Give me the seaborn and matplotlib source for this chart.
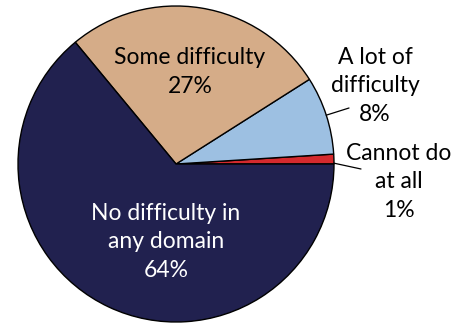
import numpy as np
import matplotlib.pyplot as plt
import seaborn as sns

# Slices, counterclockwise from the 3 o'clock position
labels = ['Cannot do\nat all', 'A lot of\ndifficulty', 'Some difficulty', 'No difficulty in\nany domain']
shares = [1, 8, 27, 64]
colors = ['#D42A2E', '#9DC0E2', '#D5AC88', '#21214F']

sns.set_style("white")
plt.rcParams['font.family'] = ['Lato', 'DejaVu Sans']

fig = plt.figure(figsize=(4.64, 3.24), dpi=100)
ax = fig.add_axes([0, 0, 1, 1])

wedges, _ = ax.pie(shares, colors=colors, startangle=0, counterclock=True,
                   wedgeprops=dict(edgecolor='black', linewidth=1.0))

# 1 unit = 158 px, pie centre at (176, 164) px from top-left
r = 158.0
ax.set_xlim(-176 / r, (464 - 176) / r)
ax.set_ylim(-(324 - 164) / r, 164 / r)
ax.set_aspect('auto')
ax.axis('off')


def px(x, y):
    return (x - 176) / r, (164 - y) / r


fs = 16.5
ls = 1.42

# labels inside the pie
tx, ty = px(190, 72)
ax.text(tx, ty, f'{labels[2]}\n{shares[2]}%', ha='center', va='center',
        fontsize=fs, color='black', linespacing=ls)
tx, ty = px(166, 242)
ax.text(tx, ty, f'{labels[3]}\n{shares[3]}%', ha='center', va='center',
        fontsize=fs, color='white', linespacing=ls)

# labels outside with leader lines: (slice, label x, label y, line end x, line end y)
outside = [(1, 375, 86, 349, 108), (0, 399, 182, 361, 169)]
for i, lx, ly, ex, ey in outside:
    w = wedges[i]
    theta = np.deg2rad((w.theta1 + w.theta2) / 2)
    if i == 0:
        theta = np.deg2rad(w.theta1 + 0.3)
    sx, sy = np.cos(theta), np.sin(theta)
    exx, eyy = px(ex, ey)
    ax.plot([sx, exx], [sy, eyy], color='black', lw=0.9)
    tx, ty = px(lx, ly)
    ax.text(tx, ty, f'{labels[i]}\n{shares[i]}%', ha='center', va='center',
            fontsize=fs, color='black', linespacing=ls)

fig.savefig('out.png', dpi=100)
